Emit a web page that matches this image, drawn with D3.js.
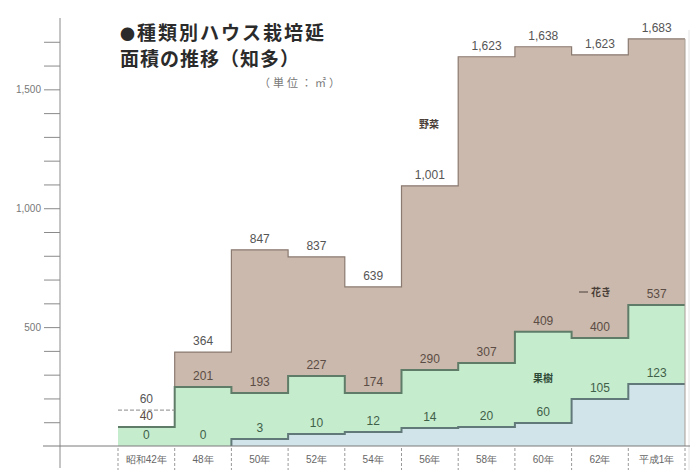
<!DOCTYPE html>
<html lang="ja">
<head>
<meta charset="utf-8">
<script src="https://cdn.jsdelivr.net/npm/d3@7"></script>
<style>
  body { margin: 0; background: #fff; }
  svg { display: block; font-family: 'Liberation Sans', Arial, sans-serif; }
</style>
</head>
<body>
<div class="chart-container"></div>
<script>
// categories along the bottom
const categories = ['昭和42年', '48年', '50年', '52年', '54年', '56年', '58年', '60年', '62年', '平成1年'];

// printed values (単位：㎡)
const fruitValues = [0, 0, 3, 10, 12, 14, 20, 60, 105, 123];        // 果樹
const flowerValues = [40, 201, 193, 227, 174, 290, 307, 409, 400, 537]; // 花き
const totalValues = [60, 364, 847, 837, 639, 1001, 1623, 1638, 1623, 1683]; // 野菜 (total)

// heights the layers are actually drawn at in the printed chart
// (the original is not to scale with its own labels near the bottom)
const fruitLevels = [0, 0, 29, 50, 59, 76, 80, 97, 198, 261];
const flowerLevels = [80, 248, 223, 294, 223, 320, 349, 480, 454, 593];
const totalLevels = [151, 395, 825, 795, 669, 1094, 1637, 1679, 1645, 1712];

const yMajorTicks = [500, 1000, 1500];
const yMinorTicks = [100, 200, 300, 400, 600, 700, 800, 900, 1100, 1200, 1300, 1400, 1600, 1700];

const width = 699;
const height = 472;

const svg = d3.select('.chart-container')
  .append('svg')
  .attr('width', width)
  .attr('height', height);

const xScale = d3.scaleBand()
  .domain(categories)
  .range([118, 685])
  .padding(0);
const yScale = d3.scaleLinear()
  .domain([0, 1800])
  .range([446, 18]);
const bw = xScale.bandwidth();

// step points for one or two level arrays, starting at column `from`
function steps(hi, lo, from) {
  const pts = [];
  categories.forEach((c, i) => {
    if (i < from) return;
    const x0 = xScale(c);
    pts.push({ x: x0, hi: hi[i], lo: lo ? lo[i] : 0 });
    pts.push({ x: x0 + bw, hi: hi[i], lo: lo ? lo[i] : 0 });
  });
  return pts;
}

const area = d3.area()
  .x(d => d.x)
  .y0(d => yScale(d.lo))
  .y1(d => yScale(d.hi));
const line = d3.line()
  .x(d => d.x)
  .y(d => yScale(d.hi));

const layers = svg.append('g').attr('class', 'layers');

// 野菜 (top, from 48年 on)
layers.append('path')
  .attr('d', area(steps(totalLevels, flowerLevels, 1)))
  .attr('fill', '#cab9ac');
// 花き
layers.append('path')
  .attr('d', area(steps(flowerLevels, fruitLevels, 0)))
  .attr('fill', '#c6ecce');
// 果樹 (from 50年 on)
layers.append('path')
  .attr('d', area(steps(fruitLevels, null, 2)))
  .attr('fill', '#d0e4ea');

// outlines
const brownPts = steps(totalLevels, null, 1);
brownPts.unshift({ x: xScale(categories[1]), hi: flowerLevels[1] });
layers.append('path')
  .attr('d', line(brownPts))
  .attr('fill', 'none')
  .attr('stroke', '#8a7a70')
  .attr('stroke-width', 1.2);

layers.append('path')
  .attr('d', line(steps(flowerLevels, null, 0)))
  .attr('fill', 'none')
  .attr('stroke', '#5f7c68')
  .attr('stroke-width', 2);

const bluePts = steps(fruitLevels, null, 2);
bluePts.unshift({ x: xScale(categories[2]), hi: 0 });
layers.append('path')
  .attr('d', line(bluePts))
  .attr('fill', 'none')
  .attr('stroke', '#62797a')
  .attr('stroke-width', 2);

// 昭和42年: total only drawn as a dashed line
layers.append('line')
  .attr('x1', xScale(categories[0]))
  .attr('x2', xScale(categories[0]) + bw)
  .attr('y1', yScale(totalLevels[0]))
  .attr('y2', yScale(totalLevels[0]))
  .attr('stroke', '#888')
  .attr('stroke-dasharray', '4,2');

// right edge
layers.append('line')
  .attr('x1', 685).attr('x2', 685)
  .attr('y1', yScale(totalLevels[9])).attr('y2', yScale(0))
  .attr('stroke', '#a99e97')
  .attr('stroke-width', 1);
svg.append('line')
  .attr('x1', 689).attr('x2', 689)
  .attr('y1', 30).attr('y2', 470)
  .attr('stroke', '#e2e2e2');

// y axis
const yAxis = d3.axisLeft(yScale)
  .tickValues(yMajorTicks.concat(yMinorTicks))
  .tickSize(16)
  .tickPadding(3)
  .tickFormat(d => yMajorTicks.includes(d) ? d3.format(',')(d) : '');
const yAxisG = svg.append('g')
  .attr('class', 'y-axis-container')
  .attr('transform', 'translate(60, 0)')
  .call(yAxis);
yAxisG.select('.domain').remove();
yAxisG.selectAll('line').attr('stroke', '#8a8a8a');
yAxisG.selectAll('text')
  .attr('font-size', 10)
  .attr('fill', '#777');
svg.append('line')
  .attr('x1', 60).attr('x2', 60)
  .attr('y1', 18).attr('y2', 468)
  .attr('stroke', '#8a8a8a');

// x baseline
svg.append('line')
  .attr('x1', 43).attr('x2', 690)
  .attr('y1', yScale(0)).attr('y2', yScale(0))
  .attr('stroke', '#7a7a7a');

// category labels with dashed separators
const xAxisG = svg.append('g').attr('class', 'x-axis-container');
xAxisG.selectAll('line')
  .data(categories.concat(['end']))
  .join('line')
  .attr('x1', (d, i) => i < categories.length ? xScale(d) : xScale(categories[i - 1]) + bw)
  .attr('x2', (d, i) => i < categories.length ? xScale(d) : xScale(categories[i - 1]) + bw)
  .attr('y1', 448)
  .attr('y2', 470)
  .attr('stroke', '#999')
  .attr('stroke-dasharray', '3,2');
xAxisG.selectAll('text')
  .data(categories)
  .join('text')
  .attr('x', d => xScale(d) + bw / 2)
  .attr('y', 459)
  .attr('dy', '0.35em')
  .attr('text-anchor', 'middle')
  .attr('font-size', 10)
  .attr('fill', '#666')
  .text(d => d);

// value labels
const labels = svg.append('g').attr('class', 'value-labels')
  .attr('font-size', 12)
  .attr('text-anchor', 'middle');
function valueLabels(values, levels, color) {
  labels.append('g')
    .selectAll('text')
    .data(values)
    .join('text')
    .attr('x', (d, i) => xScale(categories[i]) + bw / 2)
    .attr('y', (d, i) => yScale(levels[i]) - 11)
    .attr('dy', '0.35em')
    .attr('fill', color)
    .text(d => d3.format(',')(d));
}
valueLabels(totalValues, totalLevels, '#555');
valueLabels(flowerValues, flowerLevels, '#5b4c45');
valueLabels(fruitValues, fruitLevels, '#3f6048');

// series names
const names = svg.append('g').attr('class', 'series-names')
  .attr('font-family', "'Noto Sans CJK JP', sans-serif")
  .attr('font-size', 10)
  .attr('font-weight', 700)
  .attr('text-anchor', 'middle');
names.append('text').attr('x', 429).attr('y', 124).attr('dy', '0.35em').attr('fill', '#4a3e38').text('野菜');
names.append('text').attr('x', 601).attr('y', 292).attr('dy', '0.35em').attr('fill', '#4a3e38').text('花き');
names.append('line').attr('x1', 579).attr('x2', 588).attr('y1', 292).attr('y2', 292).attr('stroke', '#4a3e38');
names.append('text').attr('x', 543).attr('y', 378).attr('dy', '0.35em').attr('fill', '#2f4a37').text('果樹');

// title
const title = svg.append('g').attr('class', 'title-container')
  .attr('font-family', "'Noto Sans CJK JP', sans-serif")
  .attr('fill', '#2b2b2b');
const line1 = title.append('text')
  .attr('x', 120).attr('y', 40)
  .attr('font-size', 19).attr('font-weight', 700)
  .attr('letter-spacing', 2);
line1.append('tspan').attr('font-size', 15).text('●');
line1.append('tspan').text('種類別ハウス栽培延');
title.append('text')
  .attr('x', 120).attr('y', 66)
  .attr('font-size', 19).attr('font-weight', 700)
  .attr('letter-spacing', 1)
  .text('面積の推移（知多）');
title.append('text')
  .attr('x', 343).attr('y', 87)
  .attr('font-size', 11)
  .attr('fill', '#777')
  .attr('text-anchor', 'end')
  .attr('letter-spacing', 3)
  .text('（単位：㎡）');
</script>
</body>
</html>
